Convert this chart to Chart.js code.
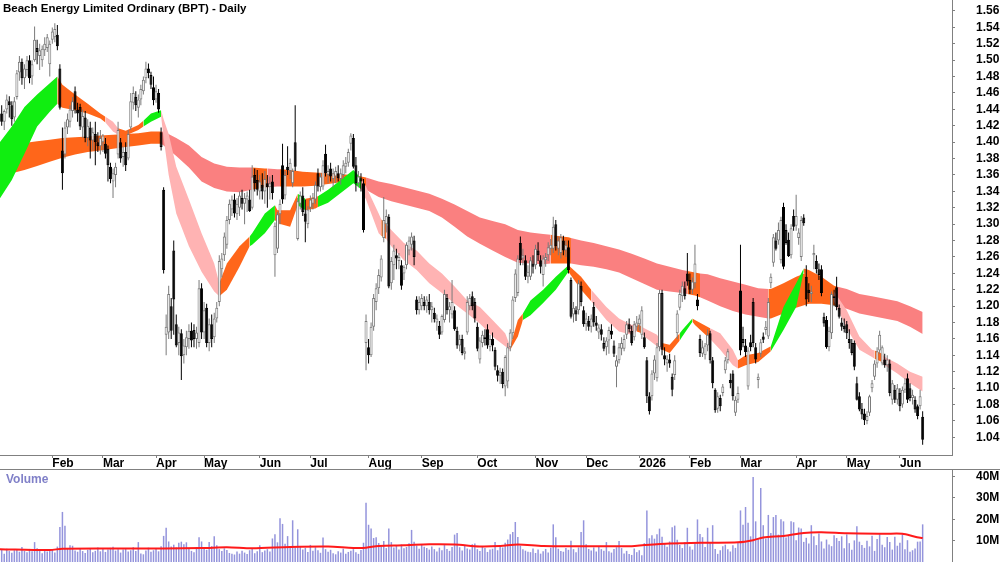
<!DOCTYPE html>
<html>
<head>
<meta charset="utf-8">
<title>BPT Daily</title>
<script src="https://cdn.jsdelivr.net/npm/chart.js@4.4.0/dist/chart.umd.min.js"></script>
<style>
  body { margin: 0; background: #fff; width: 1000px; height: 562px; overflow: hidden; position: relative;
         font-family: "Liberation Sans", Arial, sans-serif; }
  #price { position: absolute; left: 0; top: 0; }
  #vol { position: absolute; left: 0; top: 470px; }
  #sep { position: absolute; left: 0; top: 469px; width: 1000px; height: 1px; background: #808080; }
  .title { position: absolute; left: 3px; top: 2px; font-weight: bold; font-size: 11.5px; color: #000; }
  .vlabel { position: absolute; left: 6px; top: 472px; font-weight: bold; font-size: 12px; color: #8080c8; }
</style>
</head>
<body>
<canvas id="price" width="1000" height="469"></canvas>
<div id="sep"></div>
<canvas id="vol" width="1000" height="92"></canvas>
<div class="title">Beach Energy Limited Ordinary (BPT) - Daily</div>
<div class="vlabel">Volume</div>
<script>
// ---- daily bars, index 0 = first trading day of Jan 2025 ----
const opens = [
  1.425,1.435,1.425,1.440,1.450,1.445,1.430,1.455,1.485,1.498,
  1.478,1.488,1.500,1.480,1.500,1.515,1.505,1.500,1.512,1.515,
  1.495,1.525,1.528,1.531,1.490,1.390,1.385,1.418,1.425,1.438,
  1.462,1.440,1.443,1.418,1.430,1.405,1.418,1.402,1.410,1.400,
  1.395,1.400,1.398,1.392,1.370,1.352,1.360,1.385,1.400,1.382,
  1.388,1.380,1.418,1.448,1.455,1.442,1.452,1.462,1.478,1.490,
  1.482,1.467,1.452,1.460,1.412,1.342,1.165,1.168,1.200,1.268,
  1.178,1.155,1.167,1.140,1.150,1.160,1.170,1.171,1.160,1.155,
  1.222,1.168,1.198,1.155,1.178,1.162,1.185,1.205,1.245,1.262,
  1.275,1.305,1.318,1.330,1.312,1.320,1.332,1.325,1.330,1.330,
  1.320,1.360,1.354,1.340,1.348,1.340,1.350,1.345,1.352,1.262,
  1.270,1.312,1.372,1.335,1.370,1.365,1.350,1.400,1.282,1.325,
  1.335,1.313,1.300,1.320,1.325,1.330,1.362,1.345,1.346,1.386,
  1.360,1.368,1.355,1.358,1.362,1.355,1.360,1.370,1.375,1.398,
  1.405,1.372,1.350,1.356,1.350,1.155,1.150,1.140,1.175,1.205,
  1.222,1.235,1.283,1.300,1.309,1.228,1.250,1.262,1.255,1.250,
  1.240,1.250,1.268,1.275,1.280,1.208,1.195,1.200,1.205,1.200,
  1.205,1.195,1.192,1.180,1.176,1.168,1.183,1.210,1.195,1.190,
  1.195,1.170,1.152,1.160,1.142,1.168,1.200,1.212,1.205,1.175,
  1.135,1.155,1.162,1.172,1.150,1.160,1.147,1.122,1.115,1.120,
  1.102,1.108,1.150,1.167,1.210,1.216,1.277,1.258,1.256,1.236,
  1.236,1.252,1.250,1.268,1.256,1.238,1.256,1.262,1.270,1.270,
  1.300,1.270,1.265,1.280,1.268,1.272,1.232,1.190,1.195,1.195,
  1.225,1.195,1.178,1.182,1.175,1.199,1.180,1.168,1.172,1.155,
  1.150,1.158,1.170,1.152,1.126,1.134,1.148,1.148,1.165,1.178,
  1.170,1.162,1.175,1.178,1.165,1.162,1.134,1.090,1.090,1.118,
  1.112,1.150,1.216,1.140,1.130,1.135,1.114,1.116,1.167,1.198,
  1.212,1.222,1.240,1.232,1.220,1.228,1.208,1.160,1.142,1.140,
  1.152,1.167,1.134,1.098,1.075,1.088,1.094,1.122,1.134,1.110,
  1.118,1.070,1.086,1.219,1.160,1.152,1.102,1.156,1.205,1.150,
  1.110,1.142,1.163,1.171,1.163,1.228,1.253,1.280,1.280,1.256,
  1.321,1.293,1.281,1.262,1.310,1.298,1.283,1.260,1.308,1.236,
  1.220,1.215,1.262,1.255,1.245,1.245,1.187,1.183,1.150,1.167,
  1.212,1.223,1.198,1.180,1.176,1.178,1.160,1.155,1.155,1.106,
  1.090,1.075,1.069,1.060,1.070,1.100,1.114,1.130,1.146,1.130,
  1.135,1.128,1.130,1.086,1.098,1.086,1.094,1.080,1.098,1.112,
  1.100,1.088,1.086,1.078,1.078,1.065
];
const highs = [
  1.440,1.445,1.440,1.458,1.456,1.450,1.455,1.488,1.505,1.502,
  1.495,1.505,1.506,1.500,1.541,1.525,1.520,1.518,1.528,1.532,
  1.524,1.540,1.545,1.543,1.495,1.418,1.425,1.435,1.445,1.455,
  1.468,1.448,1.447,1.440,1.438,1.428,1.425,1.418,1.425,1.412,
  1.415,1.410,1.405,1.396,1.375,1.368,1.375,1.425,1.405,1.395,
  1.400,1.415,1.460,1.468,1.462,1.458,1.470,1.480,1.498,1.496,
  1.486,1.480,1.470,1.465,1.418,1.345,1.190,1.225,1.210,1.280,
  1.190,1.175,1.172,1.160,1.170,1.178,1.180,1.178,1.175,1.232,
  1.228,1.205,1.203,1.185,1.190,1.192,1.205,1.262,1.265,1.290,
  1.310,1.330,1.335,1.337,1.332,1.340,1.342,1.338,1.340,1.342,
  1.372,1.368,1.366,1.360,1.362,1.365,1.360,1.358,1.360,1.302,
  1.315,1.330,1.398,1.365,1.395,1.380,1.368,1.445,1.332,1.340,
  1.345,1.330,1.322,1.335,1.338,1.352,1.368,1.362,1.378,1.397,
  1.372,1.375,1.368,1.370,1.372,1.368,1.378,1.382,1.392,1.411,
  1.410,1.382,1.365,1.362,1.355,1.190,1.160,1.180,1.215,1.228,
  1.245,1.262,1.333,1.318,1.312,1.260,1.275,1.270,1.265,1.256,
  1.250,1.278,1.285,1.290,1.286,1.212,1.212,1.215,1.212,1.212,
  1.215,1.205,1.198,1.190,1.182,1.190,1.220,1.215,1.205,1.232,
  1.200,1.175,1.165,1.165,1.150,1.212,1.215,1.218,1.210,1.180,
  1.162,1.170,1.172,1.178,1.165,1.168,1.150,1.128,1.125,1.124,
  1.140,1.155,1.172,1.212,1.245,1.262,1.285,1.270,1.262,1.250,
  1.260,1.262,1.275,1.278,1.262,1.262,1.265,1.278,1.282,1.309,
  1.305,1.285,1.288,1.286,1.280,1.280,1.235,1.205,1.200,1.232,
  1.230,1.200,1.192,1.188,1.190,1.205,1.188,1.178,1.178,1.162,
  1.162,1.175,1.178,1.158,1.140,1.155,1.162,1.165,1.182,1.185,
  1.176,1.182,1.188,1.190,1.200,1.168,1.138,1.095,1.122,1.140,
  1.155,1.220,1.220,1.150,1.140,1.142,1.118,1.140,1.195,1.220,
  1.230,1.230,1.265,1.240,1.235,1.275,1.215,1.165,1.158,1.155,
  1.172,1.170,1.138,1.100,1.095,1.092,1.105,1.138,1.148,1.118,
  1.122,1.090,1.102,1.275,1.175,1.160,1.150,1.165,1.210,1.155,
  1.118,1.160,1.168,1.182,1.210,1.240,1.288,1.290,1.302,1.309,
  1.326,1.300,1.290,1.300,1.318,1.336,1.295,1.310,1.312,1.250,
  1.228,1.225,1.275,1.262,1.252,1.250,1.192,1.188,1.175,1.218,
  1.220,1.236,1.202,1.186,1.185,1.182,1.172,1.160,1.158,1.114,
  1.095,1.082,1.075,1.072,1.092,1.110,1.134,1.150,1.170,1.152,
  1.142,1.140,1.135,1.110,1.104,1.105,1.100,1.102,1.112,1.118,
  1.106,1.098,1.090,1.080,1.098,1.072
];
const lows = [
  1.415,1.420,1.415,1.435,1.430,1.420,1.425,1.452,1.475,1.470,
  1.465,1.480,1.472,1.470,1.498,1.495,1.488,1.492,1.505,1.510,
  1.480,1.520,1.522,1.512,1.440,1.342,1.380,1.410,1.418,1.430,
  1.435,1.425,1.415,1.405,1.400,1.395,1.380,1.390,1.372,1.388,
  1.385,1.388,1.380,1.352,1.350,1.332,1.345,1.380,1.375,1.370,
  1.365,1.378,1.415,1.440,1.438,1.430,1.445,1.458,1.472,1.478,
  1.465,1.445,1.448,1.436,1.390,1.240,1.140,1.160,1.160,1.165,
  1.150,1.140,1.110,1.130,1.140,1.148,1.150,1.150,1.148,1.150,
  1.160,1.160,1.150,1.145,1.150,1.155,1.180,1.200,1.235,1.255,
  1.270,1.300,1.310,1.308,1.305,1.310,1.318,1.300,1.315,1.315,
  1.318,1.340,1.335,1.330,1.330,1.325,1.320,1.330,1.330,1.236,
  1.265,1.300,1.325,1.330,1.360,1.355,1.345,1.365,1.280,1.318,
  1.310,1.278,1.295,1.315,1.318,1.325,1.340,1.340,1.342,1.358,
  1.350,1.352,1.345,1.350,1.352,1.348,1.355,1.362,1.370,1.390,
  1.368,1.340,1.345,1.340,1.290,1.122,1.130,1.138,1.170,1.195,
  1.215,1.230,1.278,1.290,1.222,1.220,1.232,1.245,1.245,1.220,
  1.232,1.245,1.262,1.268,1.250,1.190,1.190,1.195,1.195,1.192,
  1.190,1.180,1.180,1.170,1.160,1.165,1.180,1.190,1.180,1.185,
  1.170,1.148,1.145,1.140,1.135,1.165,1.195,1.195,1.180,1.145,
  1.130,1.150,1.152,1.148,1.145,1.145,1.122,1.108,1.105,1.100,
  1.090,1.100,1.145,1.160,1.205,1.212,1.250,1.250,1.232,1.228,
  1.232,1.240,1.245,1.255,1.240,1.224,1.248,1.255,1.262,1.265,
  1.268,1.262,1.258,1.262,1.260,1.240,1.185,1.180,1.182,1.190,
  1.200,1.175,1.170,1.170,1.168,1.175,1.170,1.160,1.158,1.145,
  1.140,1.142,1.160,1.138,1.101,1.130,1.140,1.145,1.160,1.168,
  1.152,1.158,1.170,1.170,1.160,1.148,1.082,1.068,1.085,1.110,
  1.108,1.145,1.140,1.128,1.120,1.125,1.090,1.110,1.160,1.195,
  1.205,1.208,1.225,1.215,1.215,1.222,1.195,1.138,1.138,1.135,
  1.145,1.130,1.100,1.070,1.070,1.072,1.090,1.118,1.130,1.100,
  1.085,1.066,1.082,1.140,1.150,1.138,1.098,1.145,1.150,1.130,
  1.100,1.138,1.155,1.165,1.160,1.222,1.248,1.268,1.275,1.252,
  1.245,1.275,1.260,1.258,1.292,1.292,1.275,1.255,1.298,1.200,
  1.205,1.205,1.245,1.240,1.232,1.212,1.175,1.148,1.145,1.160,
  1.200,1.195,1.185,1.170,1.168,1.160,1.148,1.140,1.122,1.085,
  1.072,1.062,1.055,1.056,1.066,1.095,1.110,1.125,1.142,1.128,
  1.125,1.120,1.090,1.080,1.082,1.080,1.072,1.076,1.094,1.082,
  1.084,1.080,1.070,1.062,1.074,1.031
];
const closes = [
  1.435,1.425,1.438,1.452,1.445,1.428,1.450,1.484,1.498,1.478,
  1.490,1.500,1.478,1.495,1.525,1.510,1.512,1.514,1.520,1.528,
  1.520,1.535,1.538,1.517,1.442,1.362,1.418,1.428,1.440,1.450,
  1.440,1.435,1.419,1.432,1.405,1.420,1.402,1.412,1.400,1.395,
  1.405,1.408,1.386,1.372,1.355,1.362,1.370,1.415,1.380,1.388,
  1.372,1.410,1.450,1.460,1.445,1.452,1.465,1.476,1.490,1.484,
  1.470,1.451,1.462,1.440,1.394,1.244,1.175,1.215,1.170,1.208,
  1.152,1.168,1.139,1.152,1.162,1.170,1.158,1.160,1.168,1.222,
  1.168,1.195,1.155,1.178,1.160,1.185,1.198,1.255,1.258,1.285,
  1.305,1.325,1.330,1.313,1.325,1.335,1.325,1.332,1.335,1.316,
  1.358,1.350,1.342,1.352,1.340,1.355,1.345,1.350,1.338,1.298,
  1.312,1.325,1.330,1.360,1.366,1.375,1.365,1.370,1.328,1.335,
  1.315,1.303,1.318,1.330,1.332,1.348,1.346,1.358,1.372,1.362,
  1.365,1.358,1.362,1.365,1.356,1.362,1.372,1.375,1.388,1.408,
  1.370,1.350,1.358,1.352,1.293,1.182,1.140,1.175,1.210,1.222,
  1.238,1.258,1.305,1.310,1.224,1.255,1.268,1.258,1.260,1.225,
  1.248,1.275,1.280,1.285,1.260,1.195,1.205,1.210,1.200,1.208,
  1.195,1.200,1.184,1.185,1.165,1.188,1.215,1.195,1.200,1.205,
  1.172,1.152,1.160,1.143,1.145,1.205,1.210,1.200,1.185,1.148,
  1.158,1.165,1.160,1.152,1.160,1.152,1.126,1.115,1.120,1.105,
  1.138,1.150,1.168,1.208,1.240,1.258,1.256,1.262,1.236,1.242,
  1.256,1.248,1.270,1.262,1.248,1.258,1.260,1.272,1.275,1.297,
  1.273,1.280,1.284,1.268,1.275,1.244,1.187,1.198,1.190,1.228,
  1.205,1.178,1.185,1.175,1.185,1.180,1.176,1.174,1.165,1.148,
  1.158,1.171,1.165,1.142,1.134,1.150,1.155,1.160,1.178,1.172,
  1.155,1.178,1.180,1.185,1.195,1.150,1.090,1.072,1.118,1.135,
  1.150,1.216,1.147,1.135,1.136,1.130,1.098,1.134,1.191,1.215,
  1.225,1.212,1.230,1.220,1.230,1.252,1.200,1.143,1.150,1.152,
  1.165,1.134,1.106,1.073,1.090,1.078,1.102,1.134,1.145,1.106,
  1.090,1.086,1.094,1.146,1.155,1.144,1.146,1.150,1.155,1.135,
  1.114,1.156,1.159,1.175,1.205,1.236,1.284,1.270,1.293,1.305,
  1.248,1.277,1.261,1.295,1.297,1.310,1.290,1.305,1.301,1.208,
  1.216,1.218,1.265,1.245,1.238,1.216,1.179,1.150,1.170,1.215,
  1.210,1.199,1.187,1.175,1.172,1.167,1.155,1.143,1.126,1.086,
  1.074,1.068,1.061,1.066,1.090,1.106,1.130,1.145,1.165,1.150,
  1.128,1.135,1.094,1.106,1.086,1.100,1.078,1.098,1.106,1.086,
  1.088,1.092,1.074,1.066,1.090,1.037
];
// volume in millions of shares
const volumes = [
  4.5,5.8,3.9,6.2,5.1,4.3,5.5,6.0,4.8,7.0,
  5.2,4.6,6.1,5.0,9.3,6.4,5.5,4.1,5.8,4.9,
  5.3,6.0,4.4,7.2,16.4,23.4,17.0,6.1,7.8,7.6,
  5.4,4.8,6.5,5.1,4.2,5.7,6.3,4.6,5.2,6.8,
  5.0,6.2,4.7,5.9,6.6,7.1,5.3,6.0,4.4,5.8,
  6.3,4.9,5.5,6.9,5.1,9.3,4.0,3.6,5.4,6.7,
  4.8,5.5,6.2,5.0,7.4,12.2,16.0,9.6,7.2,8.1,
  6.8,9.0,9.5,8.3,9.2,6.5,5.2,4.6,7.0,11.6,
  9.6,6.1,5.7,9.3,7.4,12.0,7.8,6.0,5.1,6.4,
  5.6,4.2,3.8,3.5,4.9,3.9,5.3,4.4,3.7,5.5,
  6.2,4.1,5.0,7.8,4.6,5.4,6.0,4.9,11.0,13.0,
  9.2,20.4,17.8,8.5,12.1,7.4,19.5,6.8,15.3,7.3,
  5.8,6.6,4.7,8.0,5.2,6.9,5.5,4.3,11.4,6.0,
  4.8,5.7,4.1,3.6,5.0,4.4,6.2,3.9,4.7,5.3,
  6.0,4.5,3.8,5.6,9.0,27.7,17.4,15.6,11.2,11.6,
  8.9,7.2,9.8,6.5,15.6,9.3,6.8,7.5,5.9,8.2,
  6.4,7.0,8.8,15.0,9.5,7.7,6.2,8.4,7.1,6.6,
  5.8,7.3,6.0,4.9,6.7,5.5,7.9,6.1,5.2,7.0,
  12.8,13.5,6.9,5.4,7.6,6.3,5.8,8.3,8.7,6.0,
  5.1,7.4,6.5,4.7,5.9,6.2,9.3,5.5,7.2,6.8,
  9.0,10.5,13.0,14.0,18.7,11.7,7.6,6.0,5.3,4.8,
  4.6,6.3,4.2,5.8,3.9,5.0,6.1,4.4,6.7,17.6,
  11.6,6.2,5.1,4.8,6.5,5.7,9.9,6.0,4.5,6.8,
  14.0,19.5,8.3,6.1,5.4,6.8,4.9,7.2,6.0,5.3,
  9.3,5.0,4.4,6.1,6.9,9.8,6.5,4.0,5.2,3.7,
  3.3,6.3,4.6,5.5,3.1,8.8,24.1,11.1,12.5,10.9,
  13.0,15.6,11.8,8.4,7.1,9.6,16.3,17.0,10.4,8.0,
  6.5,9.2,16.0,7.3,5.8,8.6,19.9,13.1,11.6,7.0,
  16.0,9.4,17.2,6.1,3.8,5.5,7.4,8.1,6.0,4.9,
  7.8,6.6,9.1,24.1,17.4,25.7,18.3,12.0,39.7,19.0,
  10.6,34.6,17.2,11.0,22.0,13.5,21.0,22.0,12.8,20.0,
  19.0,11.5,12.6,19.0,18.6,10.2,16.1,15.6,9.4,11.3,
  8.6,17.2,12.0,7.9,13.3,9.6,6.3,10.5,8.2,7.4,
  12.5,11.2,9.8,12.0,6.4,12.9,8.8,5.7,10.1,16.7,
  9.5,8.0,6.6,9.9,7.3,12.3,5.2,10.8,13.0,8.1,
  6.9,11.7,9.4,5.8,11.8,7.6,9.0,13.0,6.0,10.2,
  4.8,5.5,6.3,9.5,9.6,17.6
];

// volume moving average, read at these bar indices
const volMaIdx = [0,20,25,50,80,90,100,115,130,140,145,150,160,170,180,190,198,205,215,230,250,255,265,280,292,298,302,310,318,325,335,350,357,362,365];
const volMa = [6.0,5.6,6.2,6.3,6.5,6.9,6.4,7.0,7.2,6.6,6.7,7.5,7.8,8.3,8.2,7.3,7.5,8.2,7.5,7.4,7.4,7.9,8.6,9.0,9.2,10.2,11.5,12.2,13.6,13.9,13.4,13.2,13.2,11.8,11.2];

// short-term ribbon edges
const shortIdx = [0,5,10,15,20,23,25,30,35,40,42,45,47,50,55,57,60,64,65,67,70,75,80,85,87,90,95,99,100,105,109,110,115,118,121,125,126,130,135,140,143,145,150,151,153,155,160,165,170,175,180,185,190,195,200,202,205,207,210,215,220,225,230,234,240,245,250,252,254,255,260,262,265,269,270,274,275,281,285,290,292,295,300,305,310,315,318,320,325,330,335,340,345,346,349,350,355,360,365];
const shortHi = [1.399,1.419,1.443,1.458,1.472,1.480,1.470,1.458,1.447,1.435,1.431,1.425,1.417,1.414,1.421,1.426,1.435,1.439,1.428,1.410,1.370,1.330,1.289,1.252,1.228,1.252,1.273,1.285,1.289,1.313,1.323,1.317,1.317,1.337,1.331,1.333,1.334,1.342,1.354,1.366,1.356,1.346,1.313,1.306,1.300,1.293,1.277,1.268,1.252,1.240,1.224,1.207,1.199,1.183,1.167,1.151,1.183,1.191,1.207,1.220,1.236,1.250,1.236,1.220,1.199,1.185,1.177,1.179,1.175,1.173,1.165,1.155,1.153,1.167,1.171,1.185,1.183,1.173,1.167,1.147,1.134,1.140,1.143,1.151,1.199,1.228,1.246,1.244,1.236,1.218,1.195,1.163,1.147,1.146,1.142,1.138,1.130,1.120,1.114];
const shortLo = [1.330,1.354,1.386,1.419,1.437,1.447,1.442,1.439,1.435,1.429,1.424,1.413,1.409,1.408,1.415,1.419,1.425,1.431,1.405,1.360,1.313,1.273,1.242,1.218,1.212,1.220,1.248,1.273,1.275,1.289,1.305,1.301,1.297,1.323,1.317,1.319,1.321,1.326,1.338,1.350,1.343,1.330,1.289,1.286,1.282,1.273,1.256,1.244,1.228,1.216,1.203,1.191,1.179,1.163,1.151,1.147,1.163,1.183,1.189,1.204,1.220,1.242,1.220,1.206,1.183,1.169,1.165,1.169,1.167,1.163,1.151,1.147,1.143,1.158,1.163,1.181,1.177,1.160,1.147,1.128,1.124,1.128,1.132,1.145,1.171,1.199,1.242,1.224,1.210,1.206,1.173,1.147,1.138,1.136,1.132,1.128,1.118,1.106,1.096];
const shortZones = [[0,23,'G'],[23,42,'O'],[42,47,'P'],[47,57,'O'],[57,64,'G'],[64,87,'P'],[87,99,'O'],[99,109,'G'],[109,118,'O'],[118,121,'G'],[121,126,'O'],[126,143,'G'],[143,151,'P'],[151,153,'O'],[153,202,'P'],[202,207,'O'],[207,225,'G'],[225,234,'O'],[234,252,'P'],[252,254,'O'],[254,262,'P'],[262,269,'O'],[269,274,'G'],[274,281,'O'],[281,292,'P'],[292,305,'O'],[305,318,'G'],[318,330,'O'],[330,346,'P'],[346,349,'O'],[349,365,'P']];

// long-term ribbon edges
const longIdx = [0,5,10,15,20,25,30,35,40,45,50,55,60,64,65,70,75,80,85,90,95,100,105,106,110,111,115,120,125,130,135,140,145,150,155,160,165,170,175,180,185,190,195,200,205,210,215,218,220,225,226,230,235,240,245,250,255,260,265,270,272,275,277,280,285,290,295,300,304,305,310,315,320,325,330,331,335,340,345,350,355,360,365];
const longHi = [1.397,1.398,1.399,1.401,1.403,1.405,1.406,1.407,1.408,1.409,1.410,1.411,1.413,1.413,1.413,1.405,1.396,1.382,1.374,1.370,1.369,1.369,1.368,1.368,1.367,1.367,1.366,1.364,1.363,1.362,1.361,1.360,1.357,1.352,1.349,1.345,1.341,1.337,1.331,1.324,1.316,1.308,1.304,1.300,1.293,1.290,1.288,1.287,1.286,1.284,1.283,1.280,1.277,1.273,1.269,1.264,1.258,1.252,1.248,1.244,1.243,1.241,1.240,1.239,1.234,1.230,1.226,1.222,1.221,1.221,1.228,1.236,1.242,1.236,1.225,1.224,1.221,1.215,1.212,1.209,1.206,1.200,1.193];
const longLo = [1.360,1.362,1.366,1.371,1.376,1.381,1.385,1.388,1.390,1.392,1.394,1.396,1.398,1.398,1.396,1.383,1.369,1.352,1.344,1.340,1.339,1.342,1.345,1.345,1.346,1.346,1.346,1.346,1.347,1.349,1.351,1.351,1.342,1.333,1.328,1.324,1.320,1.316,1.308,1.297,1.285,1.276,1.268,1.260,1.253,1.252,1.251,1.252,1.252,1.252,1.252,1.250,1.248,1.245,1.241,1.234,1.227,1.220,1.218,1.216,1.215,1.213,1.211,1.207,1.200,1.194,1.190,1.187,1.185,1.185,1.191,1.198,1.203,1.203,1.201,1.200,1.197,1.191,1.188,1.185,1.182,1.175,1.166];
const longZones = [[0,64,'O'],[64,100,'S'],[100,106,'O'],[106,111,'S'],[111,145,'O'],[145,218,'S'],[218,226,'O'],[226,272,'S'],[272,277,'O'],[277,304,'S'],[304,331,'O'],[331,365,'S']];

// axis ticks
const monthIdx = [21,41,62,81,103,123,146,167,189,212,232,253,273,293,315,335,356];
const monthLabels = ['Feb','Mar','Apr','May','Jun','Jul','Aug','Sep','Oct','Nov','Dec','2026','Feb','Mar','Apr','May','Jun'];
const priceTicks = [1.04,1.06,1.08,1.10,1.12,1.14,1.16,1.18,1.20,1.22,1.24,1.26,1.28,1.30,1.32,1.34,1.36,1.38,1.40,1.42,1.44,1.46,1.48,1.50,1.52,1.54,1.56];
const volTicks = [10,20,30,40];
const volTickLabels = ['10M','20M','30M','40M'];

const palette = { G: '#10ee10', O: '#ff661a', P: '#ffb3b3', S: '#fa8080' };
const axisFont = { family: '"Liberation Sans", Arial, sans-serif', size: 12, weight: 'bold' };
const xMin = 0.33, xMax = 376.6;

function ribbonSets(idx, hi, lo, zones, order) {
  const sets = [];
  zones.forEach(([a, b, c]) => {
    const top = [], bot = [];
    idx.forEach((x, k) => {
      if (x >= a && x <= b) { top.push({ x: x, y: hi[k] }); bot.push({ x: x, y: lo[k] }); }
    });
    const base = { type: 'line', pointRadius: 0, borderWidth: 0, borderColor: 'rgba(0,0,0,0)', order: order };
    sets.push(Object.assign({ data: top, fill: false }, base));
    sets.push(Object.assign({ data: bot, fill: '-1', backgroundColor: palette[c] }, base));
  });
  return sets;
}

const isUp = closes.map((c, i) => c >= opens[i]);
const bodyData = closes.map((c, i) => ({ x: i, y: [Math.min(opens[i], c), Math.max(opens[i], c)] }));
const wickData = closes.map((c, i) => ({ x: i, y: [lows[i], highs[i]] }));

new Chart(document.getElementById('price'), {
  type: 'bar',
  data: {
    datasets: [
      { data: bodyData, grouped: false, barThickness: 3, borderWidth: 1, borderSkipped: false, inflateAmount: 0,
        backgroundColor: isUp.map(u => u ? '#ffffff' : '#000000'),
        borderColor: isUp.map(u => u ? '#7a7a7a' : '#000000'), order: 1 },
      { data: wickData, grouped: false, barThickness: 1, borderWidth: 0, inflateAmount: 0,
        backgroundColor: isUp.map(u => u ? '#7a7a7a' : '#000000'), order: 2 },
      ...ribbonSets(shortIdx, shortHi, shortLo, shortZones, 20),
      ...ribbonSets(longIdx, longHi, longLo, longZones, 30)
    ]
  },
  options: {
    responsive: false,
    animation: false,
    layout: { padding: 0 },
    plugins: { legend: { display: false }, tooltip: { enabled: false } },
    scales: {
      x: {
        type: 'linear', min: xMin, max: xMax, offset: false,
        grid: { drawOnChartArea: false, tickLength: 3, color: '#808080', offset: false },
        border: { color: '#808080' },
        ticks: { autoSkip: false, maxRotation: 0, align: 'start', padding: -2, color: '#000', font: axisFont,
                 callback: (v, i) => monthLabels[i] },
        afterBuildTicks: s => { s.ticks = monthIdx.map(v => ({ value: v })); },
        afterFit: s => { s.height = 14; s.paddingLeft = 0; s.paddingRight = 0; }
      },
      y: {
        position: 'right', min: 1.0185, max: 1.5734,
        grid: { drawOnChartArea: false, tickLength: 3, color: '#808080' },
        border: { color: '#808080' },
        ticks: { autoSkip: false, padding: 21, color: '#000', font: axisFont, callback: v => v.toFixed(2) },
        afterBuildTicks: s => { s.ticks = priceTicks.map(v => ({ value: v })); },
        afterFit: s => { s.width = 48; s.paddingTop = 0; s.paddingBottom = 0; }
      }
    }
  }
});

new Chart(document.getElementById('vol'), {
  type: 'bar',
  data: {
    datasets: [
      { type: 'line', data: volMaIdx.map((x, k) => ({ x: x, y: volMa[k] })), borderColor: '#ff1a1a',
        borderWidth: 2, pointRadius: 0, tension: 0.3, order: 1 },
      { data: volumes.map((v, i) => ({ x: i, y: v })), grouped: false, barThickness: 1.5, borderWidth: 0,
        inflateAmount: 0, backgroundColor: '#9494dc', order: 2 }
    ]
  },
  options: {
    responsive: false,
    animation: false,
    layout: { padding: 0 },
    plugins: { legend: { display: false }, tooltip: { enabled: false } },
    scales: {
      x: { type: 'linear', min: xMin, max: xMax, offset: false, display: false },
      y: {
        position: 'right', min: 0, max: 43,
        grid: { drawOnChartArea: false, tickLength: 3, color: '#808080' },
        border: { color: '#808080' },
        ticks: { autoSkip: false, padding: 21, color: '#000', font: axisFont, callback: (v, i) => volTickLabels[i] },
        afterBuildTicks: s => { s.ticks = volTicks.map(v => ({ value: v })); },
        afterFit: s => { s.width = 48; s.paddingTop = 0; s.paddingBottom = 0; }
      }
    }
  }
});
</script>
</body>
</html>
